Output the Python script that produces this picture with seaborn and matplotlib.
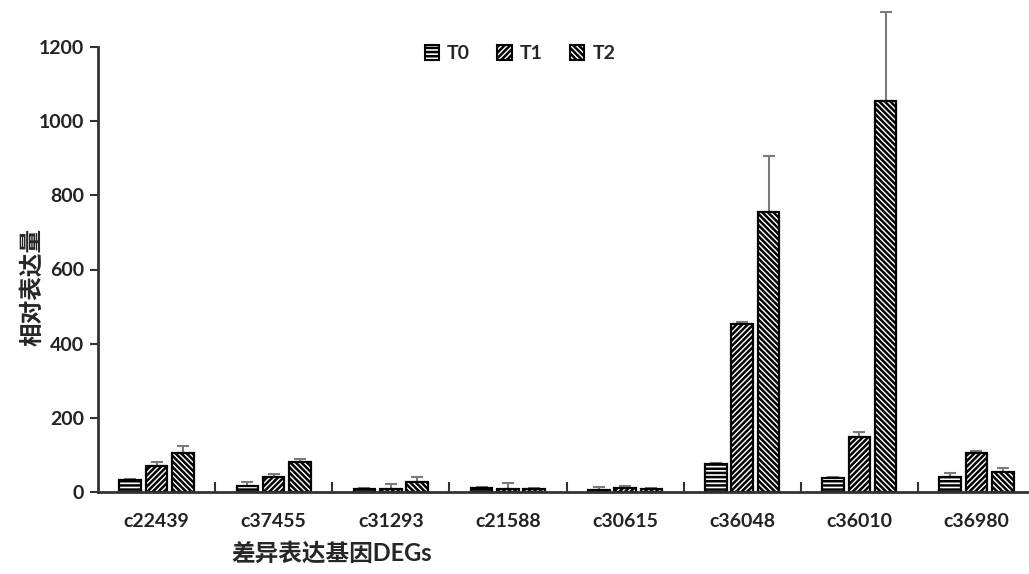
import numpy as np
import pandas as pd
import matplotlib
matplotlib.use('Agg')
import matplotlib.pyplot as plt
import matplotlib.patches as mpatches
import seaborn as sns

genes = ['c22439', 'c37455', 'c31293', 'c21588', 'c30615', 'c36048', 'c36010', 'c36980']
groups = ['T0', 'T1', 'T2']
t0_mean = [32, 17, 8, 12, 5, 75, 37, 41]
t1_mean = [71, 41, 9, 9, 10, 452, 149, 104]
t2_mean = [104, 81, 28, 9, 8, 756, 1055, 55]
t0_err = [3, 9, 3, 2, 8, 3, 3, 9]
t1_err = [9, 8, 13, 14, 7, 7, 12, 7]
t2_err = [21, 7, 12, 2, 2, 150, 240, 9]
hatches = ['----', '//////', '\\\\\\\\\\\\']
yticks = [0, 200, 400, 600, 800, 1000, 1200]

sns.set_style('ticks')
plt.rcParams['font.family'] = ['Lato', 'Noto Sans CJK SC', 'DejaVu Sans']
plt.rcParams['hatch.linewidth'] = 1.8
plt.rcParams['hatch.color'] = 'black'

means = [t0_mean, t1_mean, t2_mean]
errs = [t0_err, t1_err, t2_err]
df = pd.DataFrame({
    'gene': genes * 3,
    'group': [g for g in groups for _ in genes],
    'value': t0_mean + t1_mean + t2_mean,
})

fig = plt.figure(figsize=(10.29, 5.74), dpi=100)
ax = fig.add_axes([98 / 1029, 1 - 492 / 574, 937 / 1029, 445 / 574])

sns.barplot(data=df, x='gene', y='value', hue='group', order=genes, hue_order=groups,
            palette=['white'] * 3, edgecolor='black', linewidth=1.6,
            width=0.675, gap=0.18, errorbar=None, legend=False, ax=ax, zorder=2)

for cont, hatch, err in zip(ax.containers, hatches, errs):
    xs, hs = [], []
    for p in cont.patches:
        p.set_hatch(hatch)
        xs.append(p.get_x() + p.get_width() / 2)
        hs.append(p.get_height())
    ax.errorbar(xs, hs, yerr=[np.zeros(len(err)), err], fmt='none', ecolor='#7a7a7a',
                elinewidth=1.5, capsize=4.5, capthick=1.5, clip_on=False, zorder=1)

ax.set_xlim(-0.5, 7.5)
ax.set_ylim(0, 1200)
ax.set_yticks(yticks)
ax.set_yticklabels([str(v) for v in yticks], fontsize=14, fontweight='bold', color='#222222')
ax.set_xticks(range(len(genes)))
ax.set_xticklabels(genes, fontsize=14, fontweight='bold', color='#222222')
ax.set_xticks(np.arange(0.5, 7.5, 1), minor=True)
ax.tick_params(axis='x', which='major', length=0, pad=15)
ax.tick_params(axis='x', which='minor', direction='in', length=7, width=1.5, color='#333333')
ax.tick_params(axis='y', direction='out', length=6, width=1.5, color='#333333', pad=4)

sns.despine(ax=ax)
for s in ['left', 'bottom']:
    ax.spines[s].set_linewidth(2)
    ax.spines[s].set_color('#333333')

ax.set_ylabel('相对表达量', fontsize=17, fontweight='bold')
ax.yaxis.set_label_coords(-0.058, 0.46)
ax.set_xlabel('差异表达基因DEGs', fontsize=17, fontweight='bold')
ax.xaxis.set_label_coords((332 - 98) / 937, -0.112)

handles = [mpatches.Patch(facecolor='white', edgecolor='black', hatch=h, linewidth=1.5, label=g)
           for h, g in zip(hatches, groups)]
ax.legend(handles=handles, loc='center', bbox_to_anchor=((520 - 98) / 937, 0.985), ncol=3,
          frameon=False, prop={'size': 14, 'weight': 'bold'}, handlelength=0.75,
          handleheight=0.75, handletextpad=0.4, columnspacing=1.4)

fig.savefig('out.png', dpi=100)
